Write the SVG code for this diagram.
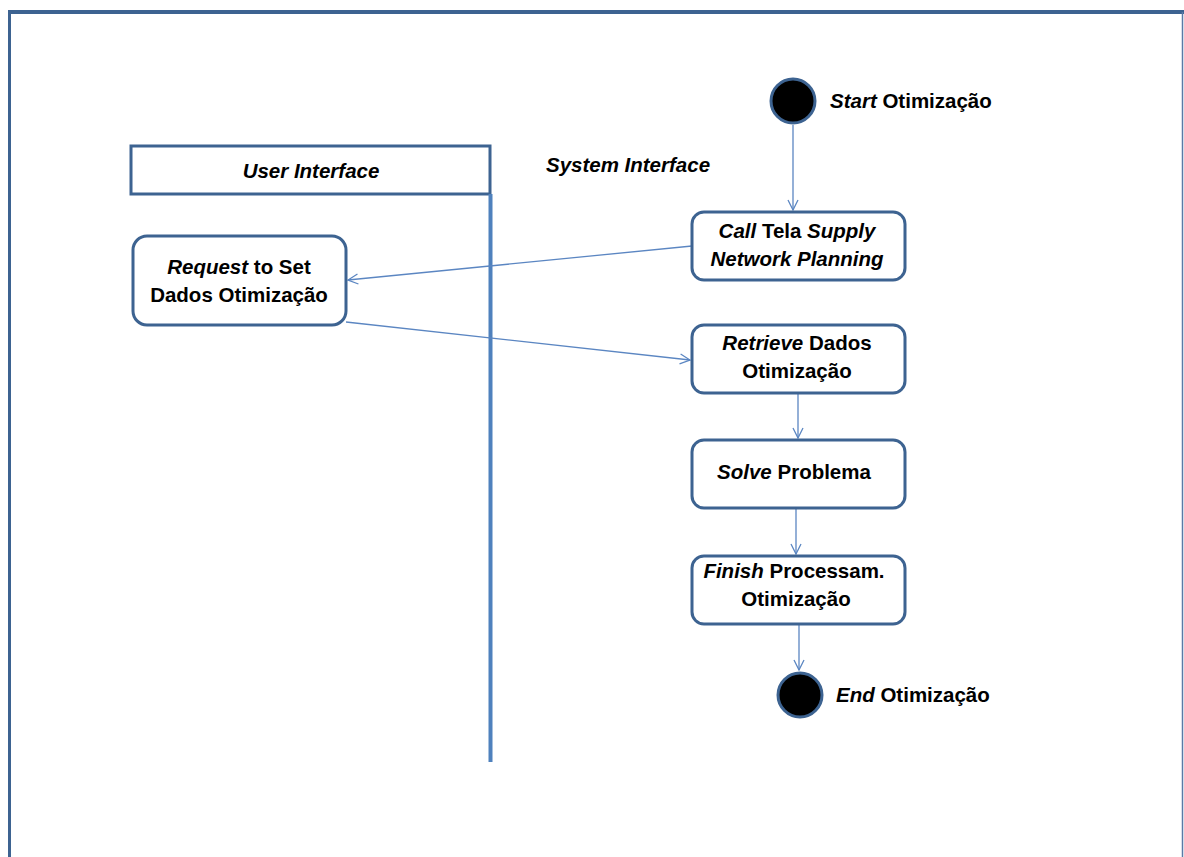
<svg xmlns="http://www.w3.org/2000/svg" width="1184" height="857" viewBox="0 0 1184 857">
  <style>
    .box { fill: #ffffff; stroke: #3d6391; stroke-width: 3; }
    .dot { fill: #000000; stroke: #3d6391; stroke-width: 3; }
    .lbl { font-family: "Liberation Sans", Arial, sans-serif; font-weight: bold; font-size: 20.5px; fill: #000000; }
    .it { font-style: italic; }
    .conn { stroke: #5b86c2; stroke-width: 1.3; fill: none; marker-end: url(#open); }
  </style>
  <defs>
    <marker id="open" viewBox="0 0 12 12" refX="11" refY="6" markerWidth="12" markerHeight="12" markerUnits="userSpaceOnUse" orient="auto">
      <path d="M1,1 L11,6 L1,11" fill="none" stroke="#5b86c2" stroke-width="1.3"/>
    </marker>
  </defs>
  <rect width="1184" height="857" fill="#ffffff"/>

  <!-- outer frame -->
  <g id="frame">
    <line x1="8" y1="12" x2="1184" y2="12" stroke="#3d6391" stroke-width="4"/>
    <line x1="9.5" y1="10" x2="9.5" y2="857" stroke="#3d6391" stroke-width="3"/>
    <line x1="1182.5" y1="12" x2="1182.5" y2="857" stroke="#5a7aa6" stroke-width="1.5"/>
  </g>

  <!-- swimlane -->
  <g id="lane-user">
    <rect class="box" x="131" y="146" width="359" height="48"/>
    <text class="lbl it" x="311" y="178" text-anchor="middle">User Interface</text>
    <line x1="490.5" y1="194" x2="490.5" y2="762" stroke="#4f81bd" stroke-width="4"/>
  </g>
  <g id="lane-system">
    <text class="lbl it" x="628" y="172" text-anchor="middle">System Interface</text>
  </g>

  <!-- connectors -->
  <g id="connectors">
    <line class="conn" x1="793" y1="125" x2="793" y2="210"/>
    <line class="conn" x1="692" y1="246" x2="348" y2="280"/>
    <line class="conn" x1="346" y1="322" x2="690" y2="360"/>
    <line class="conn" x1="798" y1="393" x2="798" y2="438"/>
    <line class="conn" x1="796" y1="508" x2="796" y2="554"/>
    <line class="conn" x1="799" y1="624" x2="799" y2="670"/>
  </g>

  <g id="start">
    <circle class="dot" cx="793" cy="101" r="22"/>
    <text class="lbl" x="830" y="108"><tspan class="it">Start</tspan> Otimização</text>
  </g>

  <g id="call-tela">
    <rect class="box" x="692" y="212" width="213" height="68" rx="12"/>
    <text class="lbl" x="797" y="238" text-anchor="middle"><tspan class="it">Call</tspan> Tela <tspan class="it">Supply</tspan></text>
    <text class="lbl it" x="797" y="266" text-anchor="middle">Network Planning</text>
  </g>

  <g id="request">
    <rect class="box" x="133" y="236" width="213" height="89" rx="14"/>
    <text class="lbl" x="239" y="274" text-anchor="middle"><tspan class="it">Request</tspan> to Set</text>
    <text class="lbl" x="239" y="302" text-anchor="middle">Dados Otimização</text>
  </g>

  <g id="retrieve">
    <rect class="box" x="692" y="325" width="213" height="68" rx="12"/>
    <text class="lbl" x="797" y="350" text-anchor="middle"><tspan class="it">Retrieve</tspan> Dados</text>
    <text class="lbl" x="797" y="378" text-anchor="middle">Otimização</text>
  </g>

  <g id="solve">
    <rect class="box" x="692" y="440" width="213" height="68" rx="12"/>
    <text class="lbl" x="794" y="479" text-anchor="middle"><tspan class="it">Solve</tspan> Problema</text>
  </g>

  <g id="finish">
    <rect class="box" x="692" y="556" width="213" height="68" rx="12"/>
    <text class="lbl" x="794" y="578" text-anchor="middle"><tspan class="it">Finish</tspan> Processam.</text>
    <text class="lbl" x="796" y="606" text-anchor="middle">Otimização</text>
  </g>

  <g id="end">
    <circle class="dot" cx="800" cy="695" r="22"/>
    <text class="lbl" x="836" y="702"><tspan class="it">End</tspan> Otimização</text>
  </g>
</svg>
